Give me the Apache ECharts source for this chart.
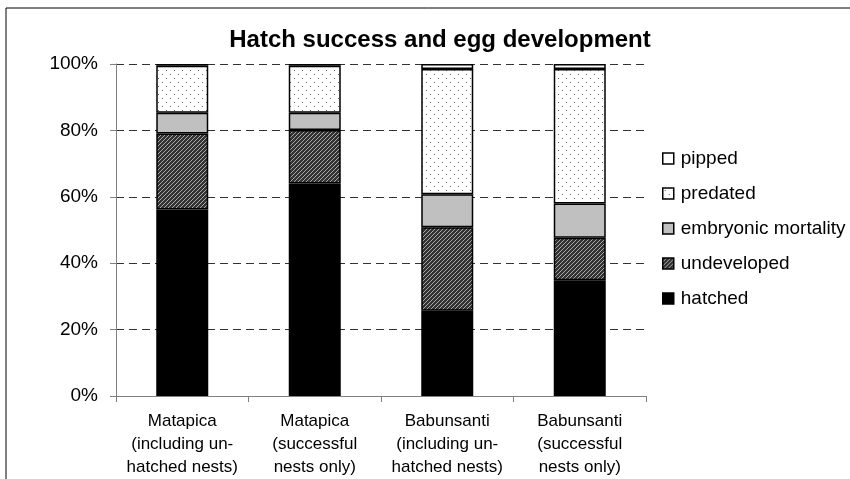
<!DOCTYPE html>
<html><head><meta charset="utf-8">
<script src="https://cdn.jsdelivr.net/npm/echarts@6/dist/echarts.min.js"></script>
<style>html,body{margin:0;padding:0;background:#fff}#c{width:850px;height:479px}</style>
</head><body><div id="c"></div>
<script>
const categories = ["Matapica\n(including un-\nhatched nests)", "Matapica\n(successful\nnests only)", "Babunsanti\n(including un-\nhatched nests)", "Babunsanti\n(successful\nnests only)"];
const hatched = [56.2, 64.0, 25.7, 34.9];
const undeveloped = [22.9, 16.1, 25.1, 12.8];
const embryonicMortality = [6.2, 5.2, 10.0, 10.3];
const predated = [14.2, 14.2, 37.7, 40.5];
const pipped = [0.5, 0.5, 1.5, 1.5];
const yTicks = [0, 20, 40, 60, 80, 100];

function hatchPattern() {
  const c = document.createElement('canvas'); c.width = 4; c.height = 4;
  const g = c.getContext('2d');
  g.fillStyle = '#333333'; g.fillRect(0, 0, 4, 4);
  g.fillStyle = '#a8a8a8';
  for (let i = 0; i < 4; i++) { g.fillRect(i, 3 - i, 1, 1); }
  return c;
}
function dotPattern() {
  const c = document.createElement('canvas'); c.width = 8; c.height = 8;
  const g = c.getContext('2d');
  g.fillStyle = '#ffffff'; g.fillRect(0, 0, 8, 8);
  g.fillStyle = '#666666';
  g.fillRect(2, 2, 1, 1); g.fillRect(6, 6, 1, 1);
  return c;
}
const font = 'Liberation Sans, Arial, sans-serif';
const chart = echarts.init(document.getElementById('c'), null, {renderer: 'canvas'});
const mk = (name, data, color) => ({
  name, type: 'bar', stack: 'all', data, barWidth: 52,
  itemStyle: {color, borderColor: '#000', borderWidth: 1.5},
  emphasis: {disabled: true}
});
chart.setOption({
  animation: false,
  title: {text: 'Hatch success and egg development', left: 435, top: 23, textAlign: 'center',
    textStyle: {fontFamily: font, fontSize: 24, fontWeight: 'bold', color: '#000'}},
  graphic: [{type: 'rect', shape: {x: 6, y: 8, width: 900, height: 600}, style: {fill: 'none', stroke: '#000', lineWidth: 1}, silent: true, z: -1}],
  legend: {orient: 'vertical', left: 657, top: 144, itemWidth: 11, itemHeight: 11, itemGap: 16,
    icon: 'rect',
    data: ['pipped', 'predated', 'embryonic mortality', 'undeveloped', 'hatched'],
    textStyle: {fontFamily: font, fontSize: 19, color: '#000', padding: [0, 0, 0, 2]},
    itemStyle: {borderColor: '#000', borderWidth: 1.5}},
  grid: {left: 116, right: 204, top: 64, bottom: 83},
  xAxis: {type: 'category', data: categories,
    axisLine: {lineStyle: {color: '#808080', width: 1}},
    axisTick: {show: true, length: 6, lineStyle: {color: '#808080'}},
    axisLabel: {interval: 0, fontFamily: font, fontSize: 17, color: '#000', lineHeight: 23, margin: 14}},
  yAxis: {type: 'value', min: 0, max: 100, interval: 20,
    axisLine: {show: true, lineStyle: {color: '#808080', width: 1}},
    axisTick: {show: true, length: 6, lineStyle: {color: '#808080'}},
    axisLabel: {fontFamily: font, fontSize: 19, color: '#000', margin: 18, formatter: v => v + '%'},
    splitLine: {lineStyle: {color: '#333', type: [8, 5], width: 1}}},
  series: [
    mk('hatched', hatched, '#000000'),
    mk('undeveloped', undeveloped, {image: hatchPattern(), repeat: 'repeat'}),
    mk('embryonic mortality', embryonicMortality, '#c0c0c0'),
    mk('predated', predated, {image: dotPattern(), repeat: 'repeat'}),
    mk('pipped', pipped, '#ffffff')
  ]
});
</script></body></html>
